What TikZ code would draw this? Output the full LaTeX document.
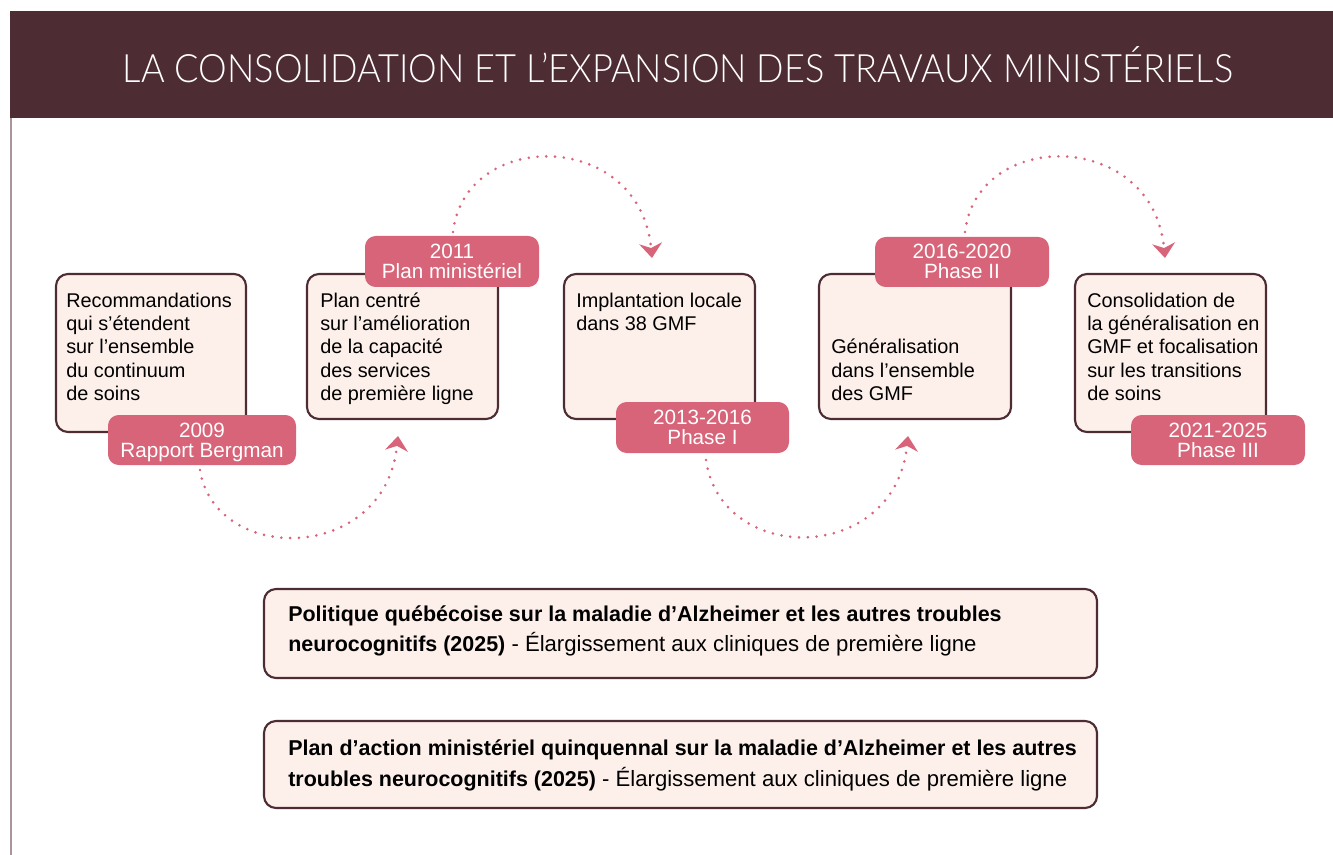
\documentclass[tikz,border=0pt]{standalone}
\usepackage{fontspec}
\usepackage{graphicx}
\setmainfont{Liberation Sans}
\newfontfamily\titlefont{Lato Light}
\usetikzlibrary{arrows.meta,fit,calc}
\definecolor{plum}{HTML}{4E2C33}
\definecolor{cream}{HTML}{FDF0EA}
\definecolor{rose}{HTML}{D76478}
\definecolor{edgegray}{HTML}{A8969B}
\newcommand{\firstln}{\rule{0pt}{14pt}}
\newcommand{\labtop}{\rule{0pt}{14.5pt}}
\newcommand{\labbot}{\rule[-4pt]{0pt}{4pt}}
\newcommand{\lite}[1]{{\fontsize{16.6}{23}\selectfont #1}}
\begin{document}
\begin{tikzpicture}[x=0.75pt,y=-0.75pt,
  bar/.style={fill=plum, inner sep=0pt, outer sep=0pt},
  box/.style={draw=plum, line width=1.6pt, fill=cream, rounded corners=9pt, inner sep=0pt, outer sep=0pt},
  lab/.style={fill=rose, rounded corners=8pt, inner sep=0pt, outer sep=0pt},
  labtext/.style={text=white, align=center, inner sep=0pt, font=\fontsize{15.5}{15}\selectfont},
  boxtext/.style={anchor=north west, align=left, inner sep=0pt, font=\fontsize{14.9}{17.5}\selectfont},
  widetext/.style={anchor=north west, align=left, inner sep=0pt, font=\fontsize{16.1}{23}\selectfont},
  flow/.style={draw=rose, line width=2.2pt, line cap=round, dash pattern=on 0pt off 6.6pt,
    -{Stealth[length=11pt,width=17pt,inset=3.5pt]}},
]
\useasboundingbox (0,0) rectangle (1333,855);

% title bar
\node[bar, fit={(10,11) (1333,118)}] (tbar) {};
\node[anchor=base, text=white, inner sep=0pt, font=\titlefont\fontsize{29.3}{30}\selectfont] (title) at (678,83)
  {\scalebox{0.926}[1]{LA CONSOLIDATION ET L’EXPANSION DES TRAVAUX MINISTÉRIELS}};
\draw[edgegray, line width=1.5pt] (11,118) -- (11,855);

% boxes
\node[box, fit={(56,274) (246,432)}] (B1) {};
\node[box, fit={(307,274) (498,419)}] (B2) {};
\node[box, fit={(564,274) (755,419)}] (B3) {};
\node[box, fit={(819,274) (1011,419)}] (B4) {};
\node[box, fit={(1075,274) (1266,432)}] (B5) {};

\node[boxtext] (T1) at (66,288.3) {\firstln Recommandations\\qui s’étendent\\sur l’ensemble\\du continuum\\de soins};
\node[boxtext] (T2) at (320,288.3) {\firstln Plan centré\\sur l’amélioration\\de la capacité\\des services\\de première ligne};
\node[boxtext] (T3) at (576,288.3) {\firstln Implantation locale\\dans 38 GMF};
\node[boxtext] (T4) at (831,335) {\firstln Généralisation\\dans l’ensemble\\des GMF};
\node[boxtext] (T5) at (1087,288.3) {\firstln Consolidation de\\la généralisation en\\GMF et focalisation\\sur les transitions\\de soins};

% date labels
\node[lab, fit={(108,415) (296,465)}] (L1) {};
\node[lab, fit={(365,236) (539,287)}] (L2) {};
\node[lab, fit={(616,402) (789,453)}] (L3) {};
\node[lab, fit={(875,237) (1049,287)}] (L4) {};
\node[lab, fit={(1131,415) (1305,465)}] (L5) {};

\node[labtext] (D1) at (L1.center) {\labtop 2009\\Rapport Bergman\labbot};
\node[labtext] (D2) at (L2.center) {\labtop 2011\\Plan ministériel\labbot};
\node[labtext] (D3) at (L3.center) {\labtop 2013-2016\\Phase I\labbot};
\node[labtext] (D4) at (L4.center) {\labtop 2016-2020\\Phase II\labbot};
\node[labtext] (D5) at (L5.center) {\labtop 2021-2025\\Phase III\labbot};

% connectors
\coordinate (a1s) at ($(L1.south)+(-2,5)$);
\coordinate (a1e) at ($(B2.south)+(-4.5,17)$);
\coordinate (a2s) at ($(L2.north)+(1,-4)$);
\coordinate (a2e) at ($(B3.north)+(-7.5,-16)$);
\coordinate (a3s) at ($(L3.south)+(3.5,7)$);
\coordinate (a3e) at ($(B4.south)+(-7,17)$);
\coordinate (a4s) at ($(L4.north)+(3,-5)$);
\coordinate (a4e) at ($(B5.north)+(-5.5,-16)$);

\draw[flow] (a1s) .. controls +(15,95) and +(-13,128) .. (a1e);
\draw[flow] (a2s) .. controls +(12,-104) and +(-12,-129) .. (a2e);
\draw[flow] (a3s) .. controls +(15,106) and +(-13,129) .. (a3e);
\draw[flow] (a4s) .. controls +(12,-104) and +(-12,-129) .. (a4e);

% bottom boxes
\node[box, fit={(264,589) (1097,678)}] (P1) {};
\node[box, fit={(264,721) (1097,808)}] (P2) {};
\node[widetext] (Q1) at (288,602.3) {\firstln\textbf{Politique québécoise sur la maladie d’Alzheimer et les autres troubles}\\\textbf{neurocognitifs (2025)}\lite{ - Élargissement aux cliniques de première ligne}};
\node[widetext] (Q2) at (288,737) {\firstln\textbf{Plan d’action ministériel quinquennal sur la maladie d’Alzheimer et les autres}\\\textbf{troubles neurocognitifs (2025)}\lite{ - Élargissement aux cliniques de première ligne}};
\end{tikzpicture}
\end{document}
